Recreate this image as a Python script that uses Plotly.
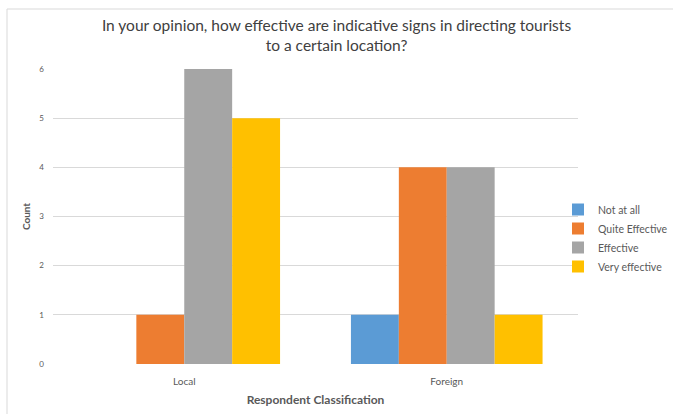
import plotly.graph_objects as go

# Survey responses by respondent group
categories = ["Local", "Foreign"]
series_names = ["Not at all", "Quite Effective", "Effective", "Very effective"]
not_at_all = [0, 1]
quite_effective = [1, 4]
effective = [6, 4]
very_effective = [5, 1]
y_ticks = [0, 1, 2, 3, 4, 5, 6]

series_values = [not_at_all, quite_effective, effective, very_effective]
colors = ["#5B9BD5", "#ED7D31", "#A5A5A5", "#FFC000"]

FONT = "Lato"
PLOT_W = 525
PLOT_H = 295

fig = go.Figure()
for name, vals, col in zip(series_names, series_values, colors):
    fig.add_trace(go.Bar(
        name=name, x=categories, y=vals,
        marker=dict(color=col, line=dict(width=0)),
    ))

fig.update_layout(
    width=673, height=414,
    margin=dict(l=53, r=95, t=69, b=50, autoexpand=False),
    paper_bgcolor="white", plot_bgcolor="white",
    barmode="group", bargap=0.27, bargroupgap=0,
    font=dict(family=FONT, color="#595959"),
    title=dict(
        text="In your opinion, how effective are indicative signs in directing tourists<br>to a certain location?",
        x=0.5, xref="container", xanchor="center",
        y=1 - 31 / 414, yanchor="middle",
        font=dict(family=FONT, size=15.5, color="#404040"),
    ),
    xaxis=dict(
        showgrid=False, showline=False, zeroline=False, ticks="",
        tickfont=dict(size=10, color="#595959"),
        ticklabelstandoff=10,
        title=dict(text="<b>Respondent Classification</b>", standoff=9,
                   font=dict(size=12, color="#595959")),
    ),
    yaxis=dict(
        range=[0, 6], tickvals=y_ticks, showgrid=True, gridcolor="#D9D9D9",
        gridwidth=1, zeroline=False, showline=False, ticks="",
        tickfont=dict(size=8, color="#595959"),
        ticklabelstandoff=8,
        title=dict(text="<b>Count</b>", standoff=6,
                   font=dict(size=10, color="#595959")),
    ),
    legend=dict(
        x=(558 - 53) / PLOT_W, xanchor="left",
        y=(364 - 195) / PLOT_H, yanchor="top",
        font=dict(size=10.5, color="#595959"),
        itemwidth=30, tracegroupgap=0, bgcolor="rgba(0,0,0,0)",
    ),
    shapes=[
        dict(type="line", xref="paper", yref="paper",
             x0=-46 / PLOT_W, x1=-46 / PLOT_W, y0=-2, y1=1 + 60 / PLOT_H,
             line=dict(color="#D9D9D9", width=1)),
        dict(type="line", xref="paper", yref="paper",
             x0=-46 / PLOT_W, x1=2, y0=1 + 60 / PLOT_H, y1=1 + 60 / PLOT_H,
             line=dict(color="#D9D9D9", width=1)),
    ],
)

fig.write_html("out.html")
